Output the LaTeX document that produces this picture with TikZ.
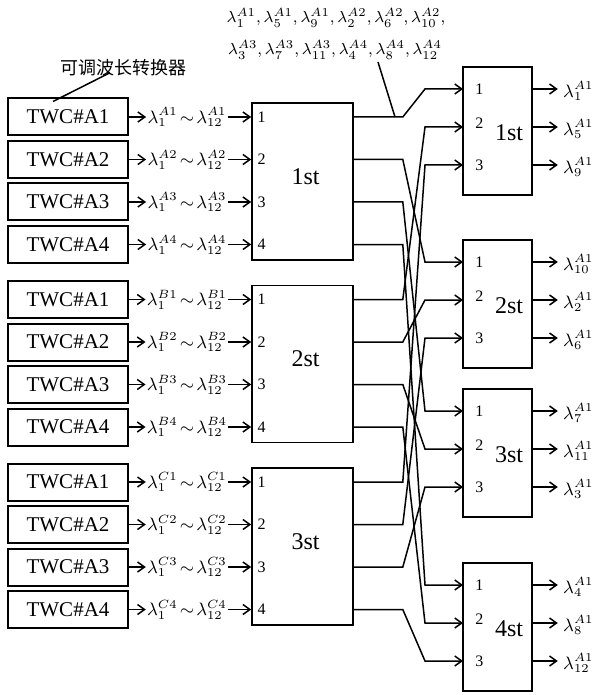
\documentclass[tikz,border=0pt]{standalone}
\usepackage{fontspec}
\setmainfont{Liberation Serif}
\newfontfamily\cjkfont{Noto Sans CJK SC}
\usepackage{tikz}
\usetikzlibrary{arrows.meta,positioning,calc}
\tikzset{
  twc/.style={draw,line width=1pt,minimum width=60pt,minimum height=18.5pt,inner sep=0pt,font=\fontsize{10.5}{12}\selectfont},
  stage/.style={draw,line width=0.8pt,inner sep=0pt},
  port/.style={font=\fontsize{8}{9}\selectfont,inner sep=0pt},
  stlbl/.style={font=\fontsize{12}{14}\selectfont,inner sep=0pt},
  wl/.style={font=\fontsize{9}{10}\selectfont,inner sep=0.5pt},
  note/.style={font=\fontsize{8}{10}\selectfont,inner sep=0pt},
  arr/.style={-{Straight Barb[length=3.5pt,width=5pt]},line width=0.75pt},
  wire/.style={line width=0.75pt},
}

\begin{document}
\begin{tikzpicture}[x=0.5pt,y=-0.5pt]
\useasboundingbox (0,0) rectangle (592,695);
% wavelength list and note
\node[note] (lst1) at (336,18) {$\lambda_1^{A1},\lambda_5^{A1},\lambda_9^{A1},\lambda_2^{A2},\lambda_6^{A2},\lambda_{10}^{A2},$};
\node[note] (lst2) at (335,50) {$\lambda_3^{A3},\lambda_7^{A3},\lambda_{11}^{A3},\lambda_4^{A4},\lambda_8^{A4},\lambda_{12}^{A4}$};
\coordinate (ptr) at (378,62);
\node[font=\cjkfont\fontsize{9}{10}\selectfont,inner sep=0pt] (twcnote) at (123,68) {可调波长转换器};
% first stage: converters and 4x4 blocks
\foreach \g/\lt/\nm in {0/A/1st,1/B/2st,2/C/3st}{
  \node[stage,minimum width=50.5pt,minimum height=78.5pt] (L\g) at (302.5,{181.5+182.5*\g}) {};
  \node[stlbl] at ($(L\g)+(3,-5)$) {\nm};
  \foreach \n in {1,...,4}{
    \node[twc] (T\g\n) at (68,{117+182.5*\g+42.5*(\n-1)}) {TWC\#A\n};
    \node[wl] (W\g\n) at (187,{117+182.5*\g+42.5*(\n-1)}) {$\lambda_1^{\lt\n}\!\sim\!\lambda_{12}^{\lt\n}$};
    \draw[arr] (T\g\n) -- (W\g\n);
    \draw[arr] (W\g\n) -- (L\g.west |- T\g\n);
    \node[port,anchor=west] at ($(L\g.west |- T\g\n)+(6,0)$) {\n};
    \coordinate (O\g\n) at (L\g.east |- T\g\n);
  }
}
% second stage: 3x3 blocks
\foreach \r/\yc/\nm/\la/\lb/\lc in {1/131/1st/1/5/9,2/304/2st/10/2/6,3/453/3st/7/11/3,4/627/4st/4/8/12}{
  \node[stage,minimum width=34.5pt,minimum height=64pt] (R\r) at (497.5,\yc) {};
  \node[stlbl] at (509,{\yc+2}) {\nm};
  \foreach \k/\lam in {1/\la,2/\lb,3/\lc}{
    \coordinate (I\r\k) at (463,{\yc-80+38*\k});
    \node[port,anchor=west] (P\r\k) at ($(I\r\k)+(12,{\k==2?-4:0})$) {\k};
    \coordinate (Q\r\k) at (R\r.east |- I\r\k);
    \node[wl,anchor=west,inner sep=0pt] (V\r\k) at ($(Q\r\k)+(30,2)$) {$\lambda_{\lam}^{A1}$};
    \draw[arr] (Q\r\k) -- ($(Q\r\k)+(25,0)$);
  }
}
% shuffle between the stages
\foreach \g/\k in {0/1,1/2,2/3}{
  \foreach \n in {1,...,4}{
    \draw[arr] (O\g\n) -- ++(49,0) -- ($(I\n\k)+(-38,0)$) -- (I\n\k);
  }
}
\coordinate (tip) at (395,117);
\draw[wire] (ptr) -- (tip);
\draw[wire] ($(twcnote.south)+(-13,-4)$) -- ($(T01.north)+(-15,4)$);
\end{tikzpicture}
\end{document}
